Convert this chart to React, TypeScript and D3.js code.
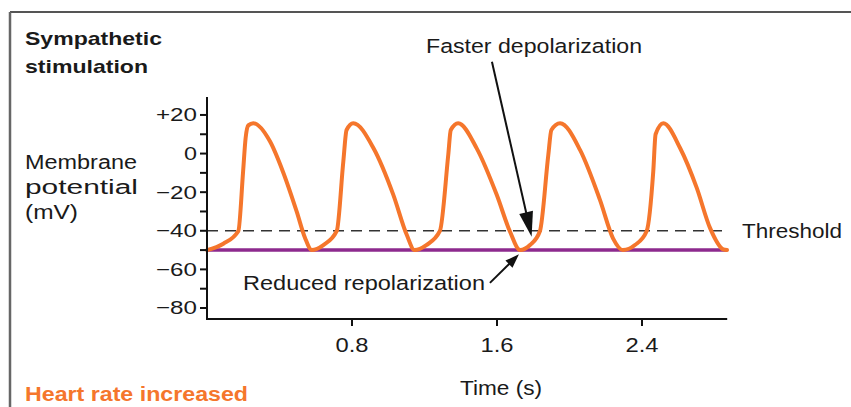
import React from "react";
import * as d3 from "d3";

// ---- data (time in s, membrane potential in mV) ----
const beat1: [number, number][] = [
  [0.0, -50], [0.09, -46.7], [0.173, -40.1], [0.199, -9.5], [0.213, 8], [0.228, 14.6],
  [0.255, 15.7], [0.348, 6.2], [0.419, -9.4], [0.495, -30.1], [0.541, -43.7], [0.578, -50],
];
const beat2: [number, number][] = [
  [0.642, -47.4], [0.716, -40.1], [0.752, -4.2], [0.77, 12.2], [0.807, 15.7],
  [0.918, 2.9], [1.028, -21.4], [1.102, -42.1], [1.145, -50],
];
const beat3: [number, number][] = [
  [1.21, -47.4], [1.285, -40.1], [1.331, -0.7], [1.345, 12.2], [1.386, 15.7],
  [1.488, 2.7], [1.599, -21.5], [1.672, -40.5], [1.727, -50],
];
const beat4: [number, number][] = [
  [1.782, -47.4], [1.837, -40.1], [1.883, -0.7], [1.9, 12.2], [1.948, 15.7],
  [2.058, 1.9], [2.168, -24], [2.24, -43.9], [2.295, -50],
];
const beat5: [number, number][] = [
  [2.361, -47.4], [2.426, -40.1], [2.462, -9.4], [2.475, 10], [2.518, 15.7],
  [2.61, 2.9], [2.702, -17.8], [2.775, -38.5], [2.848, -49.6], [2.869, -50],
];

const thresholdMV = -40;
const restingMV = -50;
const timeExtent: [number, number] = [0, 2.87];
const mvExtent: [number, number] = [-85.7, 29.3];

const xTickValues = [0.8, 1.6, 2.4];
const xTickLabels = ["0.8", "1.6", "2.4"];
const yTickValues = [-80, -70, -60, -50, -40, -30, -20, -10, 0, 10, 20];
const yLabelValues = [20, 0, -20, -40, -60, -80];
const yLabelTexts = ["+20", "0", "\u221220", "\u221240", "\u221260", "\u221280"];

// annotation anchors in data units [t, mV]
const fasterArrow: [number, number][] = [[1.572, 47.6], [1.791, -43.1]];
const reducedArrow: [number, number][] = [[1.561, -67], [1.721, -52.2]];

const W = 851;
const H = 407;
const FONT = "'Liberation Sans', Arial, Helvetica, sans-serif";
const ORANGE = "#f5762c";
const PURPLE = "#8d2a8e";
const INK = "#1a1a1a";

function Arrow({ p0, p1, head, half, width }: { p0: [number, number]; p1: [number, number]; head: number; half: number; width: number }) {
  const dx = p1[0] - p0[0];
  const dy = p1[1] - p0[1];
  const len = Math.hypot(dx, dy);
  const ux = dx / len, uy = dy / len;
  const bx = p1[0] - ux * head, by = p1[1] - uy * head;
  const px = -uy * half, py = ux * half;
  const pts = `${p1[0]},${p1[1]} ${bx + px},${by + py} ${bx - px},${by - py}`;
  return (
    <g>
      <line x1={p0[0]} y1={p0[1]} x2={bx + ux * 2} y2={by + uy * 2} stroke="#111" strokeWidth={width} />
      <polygon points={pts} fill="#111" />
    </g>
  );
}

export default function App() {
  const x = d3.scaleLinear().domain(timeExtent).range([207, 727.2]);
  const y = d3.scaleLinear().domain(mvExtent).range([319, 97]);
  const all = [...beat1, ...beat2, ...beat3, ...beat4, ...beat5];
  const line = d3
    .line<[number, number]>()
    .x((d) => x(d[0]))
    .y((d) => y(d[1]))
    .curve(d3.curveMonotoneX);

  const fa = fasterArrow.map((d) => [x(d[0]), y(d[1])] as [number, number]);
  const ra = reducedArrow.map((d) => [x(d[0]), y(d[1])] as [number, number]);

  const x0 = x(timeExtent[0]);
  const x1 = x(timeExtent[1]);

  return (
    <svg
      width={W}
      height={H}
      style={{ position: "absolute", left: 0, top: 0, background: "#fff" }}
      fontFamily={FONT}
    >
      <rect x={0} y={0} width={W} height={H} fill="#fff" />
      {/* frame */}
      <line x1={10} y1={12} x2={W} y2={12} stroke="#555" strokeWidth={2} />
      <line x1={10} y1={12} x2={10} y2={H} stroke="#666" strokeWidth={2.5} />

      {/* titles */}
      <text x={25} y={45} fontSize={19} fontWeight="bold" fill={INK} textLength={137} lengthAdjust="spacingAndGlyphs">Sympathetic</text>
      <text x={25} y={73} fontSize={19} fontWeight="bold" fill={INK} textLength={123} lengthAdjust="spacingAndGlyphs">stimulation</text>

      <text x={25} y={169} fontSize={19.5} fill={INK} textLength={112} lengthAdjust="spacingAndGlyphs">Membrane</text>
      <text x={25} y={194} fontSize={19.5} fill={INK} textLength={113} lengthAdjust="spacingAndGlyphs">potential</text>
      <text x={25} y={219} fontSize={19.5} fill={INK} textLength={53} lengthAdjust="spacingAndGlyphs">(mV)</text>

      {/* threshold & resting lines */}
      <line x1={x0} x2={x1} y1={y(thresholdMV)} y2={y(thresholdMV)} stroke="#333" strokeWidth={1.5} strokeDasharray="11 7" />
      <line x1={x0} x2={x1} y1={y(restingMV)} y2={y(restingMV)} stroke={PURPLE} strokeWidth={3.5} />

      {/* curve */}
      <path d={line(all) || ""} fill="none" stroke={ORANGE} strokeWidth={4} strokeLinejoin="round" strokeLinecap="round" />

      {/* y axis */}
      <line x1={x0} x2={x0} y1={y(mvExtent[1])} y2={y(mvExtent[0]) + 1} stroke="#111" strokeWidth={2} />
      {yTickValues.map((v) => (
        <line key={v} x1={x0 - 7} x2={x0} y1={y(v)} y2={y(v)} stroke="#111" strokeWidth={2} />
      ))}
      {yLabelValues.map((v, i) => (
        <text
          key={v}
          x={197}
          y={y(v) + 6.5}
          fontSize={19}
          textAnchor="end"
          fill={INK}
          textLength={yLabelTexts[i].length > 1 ? 41 : 13}
          lengthAdjust="spacingAndGlyphs"
        >
          {yLabelTexts[i]}
        </text>
      ))}

      {/* x axis */}
      <line x1={x0 - 1} x2={x1} y1={y(mvExtent[0])} y2={y(mvExtent[0])} stroke="#111" strokeWidth={2} />
      {xTickValues.map((t, i) => (
        <g key={t}>
          <line x1={x(t)} x2={x(t)} y1={y(mvExtent[0])} y2={y(mvExtent[0]) + 7} stroke="#111" strokeWidth={2} />
          <text x={x(t)} y={352} fontSize={20} textAnchor="middle" fill={INK} textLength={33} lengthAdjust="spacingAndGlyphs">
            {xTickLabels[i]}
          </text>
        </g>
      ))}
      <text x={460} y={395} fontSize={20} fill={INK} textLength={82} lengthAdjust="spacingAndGlyphs">Time (s)</text>

      {/* annotations */}
      <text x={426} y={53} fontSize={20.5} fill={INK} textLength={216} lengthAdjust="spacingAndGlyphs">Faster depolarization</text>
      <Arrow p0={fa[0]} p1={fa[1]} head={25} half={7} width={2} />
      <text x={742} y={238} fontSize={20.5} fill={INK} textLength={100} lengthAdjust="spacingAndGlyphs">Threshold</text>
      <text x={243} y={290} fontSize={20.5} fill={INK} textLength={242} lengthAdjust="spacingAndGlyphs">Reduced repolarization</text>
      <Arrow p0={ra[0]} p1={ra[1]} head={14} half={5} width={2} />

      <text x={25} y={401} fontSize={20} fontWeight="bold" fill={ORANGE} textLength={223} lengthAdjust="spacingAndGlyphs">Heart rate increased</text>
    </svg>
  );
}
